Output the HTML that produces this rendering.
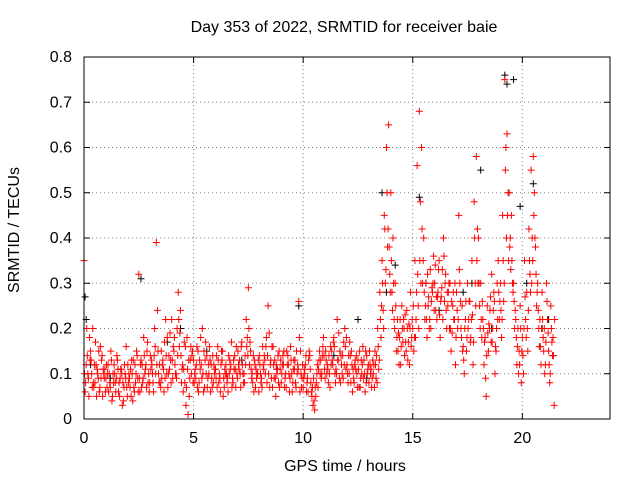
<!DOCTYPE html>
<html><head><meta charset="utf-8"><style>
body{margin:0;background:#fff;}
svg text{font-family:"Liberation Sans",sans-serif;font-size:16px;fill:#000;}
</style></head><body>
<svg id="chart" width="640" height="480" xmlns="http://www.w3.org/2000/svg">
<text x="344" y="32" text-anchor="middle">Day 353 of 2022, SRMTID for receiver baie</text>
<text x="345" y="471" text-anchor="middle">GPS time / hours</text>
<text transform="translate(19,230) rotate(-90)" text-anchor="middle">SRMTID / TECUs</text>
<g id="grid"></g>
<g id="ticks"></g>
<g id="black-series"></g>
<g id="red-series"></g>
<rect x="84" y="57" width="526" height="362" fill="none" stroke="#000" stroke-width="1"/>
</svg>
<script>
const xTicks=[0,5,10,15,20];
const yTicks=[0,0.1,0.2,0.3,0.4,0.5,0.6,0.7,0.8];
const yTickLabels=["0","0.1","0.2","0.3","0.4","0.5","0.6","0.7","0.8"];
const seriesAStart=0, seriesBStart=0.05, seriesCStart=0.025, seriesDStart=0.075, step=0.1;
const seriesA=[0.35,0.12,0.09,0.15,0.2,0.08,0.11,0.06,0.13,0.1,
0.09,0.12,0.07,0.05,0.1,0.14,0.08,0.11,0.04,0.09,
0.12,0.07,0.1,0.06,0.15,0.32,0.13,0.09,0.11,0.17,
0.08,0.12,0.14,0.39,0.1,0.07,0.13,0.09,0.18,0.11,
0.22,0.15,0.1,0.28,0.24,0.12,0.08,0.18,0.05,0.1,
0.13,0.09,0.15,0.11,0.2,0.07,0.14,0.1,0.12,0.08,
0.11,0.16,0.09,0.13,0.07,0.1,0.14,0.12,0.08,0.11,
0.09,0.13,0.17,0.1,0.22,0.29,0.15,0.08,0.12,0.1,
0.14,0.09,0.11,0.16,0.25,0.12,0.07,0.13,0.1,0.15,
0.08,0.12,0.1,0.14,0.09,0.06,0.11,0.15,0.26,0.1,
0.07,0.12,0.09,0.14,0.05,0.04,0.08,0.11,0.13,0.16,
0.09,0.12,0.1,0.15,0.18,0.11,0.13,0.08,0.14,0.2,
0.12,0.1,0.15,0.09,0.11,0.13,0.07,0.12,0.1,0.14,
0.08,0.11,0.1,0.12,0.2,0.28,0.35,0.45,0.6,0.65,
0.5,0.4,0.3,0.22,0.18,0.25,0.2,0.15,0.17,0.28,
0.2,0.35,0.56,0.68,0.6,0.4,0.3,0.25,0.33,0.28,
0.3,0.22,0.35,0.27,0.4,0.32,0.25,0.3,0.19,0.22,
0.28,0.45,0.2,0.16,0.22,0.3,0.26,0.35,0.48,0.58,
0.4,0.3,0.22,0.18,0.25,0.2,0.32,0.28,0.15,0.35,
0.3,0.45,0.75,0.63,0.5,0.45,0.3,0.22,0.2,0.25,
0.18,0.35,0.28,0.42,0.55,0.58,0.38,0.3,0.22,0.28,
0.2,0.3,0.15,0.25,0.18];
const seriesB=[0.06,0.14,0.18,0.1,0.07,0.12,0.09,0.16,0.05,0.11,
0.07,0.1,0.13,0.08,0.06,0.11,0.09,0.03,0.12,0.07,
0.1,0.05,0.13,0.08,0.09,0.06,0.12,0.14,0.07,0.1,
0.11,0.08,0.16,0.24,0.12,0.09,0.06,0.14,0.1,0.13,
0.09,0.12,0.2,0.16,0.08,0.11,0.03,0.01,0.13,0.15,
0.1,0.16,0.08,0.12,0.06,0.17,0.09,0.13,0.07,0.1,
0.14,0.08,0.12,0.05,0.1,0.09,0.13,0.07,0.11,0.16,
0.12,0.07,0.1,0.14,0.18,0.12,0.09,0.06,0.11,0.13,
0.1,0.16,0.13,0.08,0.19,0.09,0.12,0.05,0.14,0.11,
0.12,0.07,0.15,0.1,0.13,0.11,0.08,0.12,0.06,0.09,
0.11,0.06,0.13,0.08,0.03,0.07,0.12,0.15,0.1,0.14,
0.13,0.08,0.16,0.12,0.1,0.22,0.09,0.12,0.17,0.11,
0.08,0.14,0.06,0.12,0.1,0.07,0.13,0.09,0.15,0.11,
0.12,0.09,0.07,0.14,0.11,0.18,0.24,0.3,0.38,0.32,
0.28,0.22,0.15,0.19,0.12,0.17,0.23,0.2,0.12,0.18,
0.15,0.22,0.25,0.48,0.3,0.22,0.18,0.2,0.26,0.36,
0.24,0.28,0.18,0.33,0.26,0.2,0.3,0.15,0.28,0.12,
0.2,0.3,0.25,0.1,0.15,0.22,0.18,0.12,0.3,0.42,
0.25,0.18,0.12,0.05,0.15,0.27,0.2,0.1,0.3,0.22,
0.18,0.26,0.6,0.5,0.4,0.3,0.2,0.12,0.15,0.08,
0.1,0.22,0.15,0.32,0.4,0.5,0.25,0.2,0.12,0.18,
0.12,0.22,0.08,0.17,0.03];
const seriesC=[0.1,0.2,0.05,0.13,0.08,0.17,0.1,0.07,0.14,0.09,
0.12,0.06,0.15,0.1,0.08,0.13,0.05,0.1,0.07,0.16,
0.08,0.11,0.04,0.12,0.14,0.09,0.07,0.18,0.12,0.08,
0.14,0.1,0.2,0.12,0.08,0.15,0.11,0.22,0.07,0.19,
0.13,0.18,0.09,0.22,0.14,0.06,0.16,0.11,0.09,0.14,
0.08,0.12,0.06,0.18,0.1,0.13,0.07,0.16,0.09,0.12,
0.09,0.13,0.06,0.15,0.11,0.08,0.1,0.17,0.13,0.07,
0.15,0.1,0.12,0.08,0.16,0.2,0.11,0.14,0.07,0.1,
0.12,0.07,0.14,0.18,0.1,0.13,0.16,0.09,0.11,0.07,
0.1,0.15,0.07,0.12,0.16,0.08,0.13,0.1,0.18,0.07,
0.09,0.14,0.06,0.11,0.07,0.02,0.1,0.13,0.09,0.18,
0.15,0.11,0.07,0.13,0.16,0.1,0.19,0.14,0.09,0.16,
0.1,0.17,0.12,0.08,0.14,0.11,0.09,0.16,0.06,0.1,
0.15,0.07,0.12,0.09,0.16,0.22,0.3,0.42,0.5,0.38,
0.35,0.3,0.25,0.15,0.22,0.2,0.14,0.24,0.21,0.16,
0.25,0.18,0.32,0.35,0.42,0.28,0.22,0.27,0.2,0.3,
0.34,0.27,0.23,0.29,0.36,0.24,0.28,0.2,0.25,0.3,
0.24,0.33,0.18,0.13,0.26,0.2,0.17,0.23,0.4,0.35,
0.3,0.22,0.2,0.09,0.19,0.24,0.17,0.26,0.2,0.28,
0.24,0.35,0.55,0.45,0.38,0.35,0.26,0.18,0.1,0.2,
0.14,0.27,0.2,0.35,0.3,0.45,0.32,0.24,0.16,0.22,
0.1,0.26,0.12,0.2,0.14];
const seriesD=[0.08,0.1,0.13,0.07,0.12,0.05,0.15,0.09,0.11,0.06,
0.1,0.08,0.04,0.12,0.09,0.06,0.11,0.08,0.1,0.05,
0.09,0.13,0.07,0.1,0.06,0.12,0.08,0.1,0.15,0.06,
0.13,0.06,0.1,0.15,0.08,0.12,0.17,0.1,0.14,0.08,
0.16,0.1,0.14,0.19,0.11,0.17,0.07,0.13,0.16,0.08,
0.11,0.07,0.13,0.09,0.15,0.1,0.12,0.06,0.14,0.11,
0.07,0.1,0.15,0.09,0.12,0.06,0.11,0.09,0.14,0.1,
0.11,0.16,0.08,0.12,0.14,0.17,0.1,0.13,0.09,0.06,
0.08,0.12,0.1,0.14,0.07,0.16,0.09,0.12,0.08,0.13,
0.14,0.09,0.12,0.06,0.1,0.13,0.07,0.11,0.15,0.12,
0.1,0.08,0.15,0.06,0.09,0.05,0.07,0.1,0.14,0.11,
0.1,0.14,0.12,0.17,0.08,0.13,0.15,0.1,0.12,0.18,
0.14,0.08,0.11,0.13,0.07,0.15,0.1,0.13,0.08,0.12,
0.1,0.13,0.15,0.08,0.13,0.25,0.2,0.33,0.42,0.28,
0.24,0.2,0.18,0.12,0.16,0.22,0.17,0.13,0.2,0.22,
0.18,0.28,0.2,0.3,0.35,0.25,0.32,0.22,0.29,0.24,
0.27,0.33,0.26,0.22,0.3,0.28,0.2,0.26,0.22,0.18,
0.22,0.26,0.15,0.2,0.18,0.26,0.22,0.17,0.25,0.3,
0.2,0.26,0.17,0.14,0.21,0.17,0.24,0.16,0.22,0.26,
0.22,0.3,0.4,0.35,0.33,0.28,0.24,0.16,0.12,0.15,
0.2,0.18,0.24,0.28,0.35,0.4,0.28,0.16,0.2,0.15,
0.17,0.19,0.1,0.14,0.22];
const blackTimes=[0.05,0.1,0.3,1.2,2.6,3.8,4.4,5.6,7.2,8.8,9.8,11.4,12.5,12.9,13.6,13.8,14.2,14.6,15.3,15.6,16.2,16.9,17.3,17.7,18.1,18.6,19.2,19.3,19.6,19.9,20.2,20.5,20.9,21.2];
const blackValues=[0.27,0.22,0.12,0.09,0.31,0.17,0.2,0.15,0.13,0.11,0.25,0.14,0.22,0.09,0.5,0.28,0.34,0.2,0.49,0.3,0.24,0.22,0.28,0.3,0.55,0.2,0.76,0.74,0.75,0.47,0.3,0.52,0.2,0.22];

const X0=84,X1=610,Y0=419,Y1=57,XMAX=24,YMAX=0.8;
const xs=t=>X0+(X1-X0)*t/XMAX;
const ys=v=>Y0-(Y0-Y1)*v/YMAX;
const NS="http://www.w3.org/2000/svg";
function mk(tag,attrs,parent){const e=document.createElementNS(NS,tag);for(const k in attrs)e.setAttribute(k,attrs[k]);parent.appendChild(e);return e;}
const grid=document.getElementById('grid'),ticks=document.getElementById('ticks');
xTicks.forEach(t=>{const x=xs(t);
 if(t>0){const g=mk('line',{x1:x,x2:x,y1:Y1,y2:Y0,stroke:'#808080','stroke-dasharray':'1,3'},grid);
 
 }
 mk('line',{x1:x,x2:x,y1:Y0,y2:Y0-6,stroke:'#000'},ticks);
 mk('line',{x1:x,x2:x,y1:Y1,y2:Y1+6,stroke:'#000'},ticks);
 const l=mk('text',{x:x,y:Y0+24,'text-anchor':'middle'},ticks);l.textContent=t;
 
 
});
yTicks.forEach((v,i)=>{const y=ys(v);
 if(v>0&&v<YMAX){const g=mk('line',{x1:X0,x2:X1,y1:y,y2:y,stroke:'#808080','stroke-dasharray':'1,3'},grid);
 
 }
 mk('line',{x1:X0,x2:X0+6,y1:y,y2:y,stroke:'#000'},ticks);
 mk('line',{x1:X1,x2:X1-6,y1:y,y2:y,stroke:'#000'},ticks);
 const l=mk('text',{x:X0-12,y:y+5,'text-anchor':'end'},ticks);l.textContent=yTickLabels[i];
 
 
});
function plus(parent,t,v,color,name){const x=xs(t),y=ys(v);
 const p=mk('path',{d:`M${x-3.5},${y}h7M${x},${y-3.5}v7`,stroke:color,'stroke-width':1,fill:'none'},parent);
 
 }
const bg=document.getElementById('black-series'),rg=document.getElementById('red-series');
blackTimes.forEach((t,i)=>plus(bg,t,blackValues[i],'#000','black-point'));
seriesA.forEach((v,i)=>plus(rg,seriesAStart+i*step,v,'#ff0000','red-point'));
seriesB.forEach((v,i)=>plus(rg,seriesBStart+i*step,v,'#ff0000','red-point'));
seriesC.forEach((v,i)=>plus(rg,seriesCStart+i*step,v,'#ff0000','red-point'));
seriesD.forEach((v,i)=>plus(rg,seriesDStart+i*step,v,'#ff0000','red-point'));
</script>
</body></html>
